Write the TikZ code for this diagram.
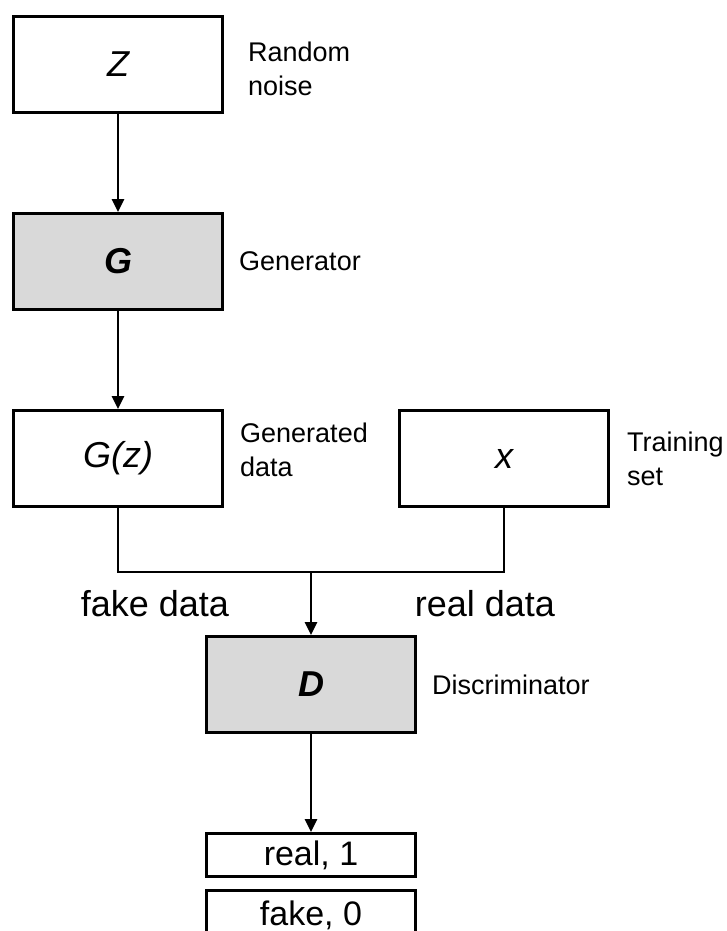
\documentclass[tikz,border=0pt]{standalone}
\usepackage{fontspec}
\setmainfont{Liberation Sans}
\usetikzlibrary{arrows.meta, positioning, calc}
\definecolor{boxgray}{RGB}{217, 217, 217}

\begin{document}
\begin{tikzpicture}[
  x=1pt, y=-1pt,
  node distance=98pt,
  block/.style={rectangle, draw=black, line width=3pt, fill=white,
                minimum width=209pt, minimum height=96pt, inner sep=0pt,
                font=\fontsize{36}{42}\selectfont\itshape},
  net/.style={block, fill=boxgray, font=\fontsize{36}{42}\selectfont\bfseries\itshape},
  outbox/.style={block, minimum height=43pt, font=\fontsize{34}{40}\selectfont},
  note/.style={inner sep=0pt, align=left, font=\fontsize{27}{34}\selectfont},
  flow/.style={inner sep=0pt, font=\fontsize{36}{42}\selectfont},
  wire/.style={line width=2.6pt, black},
  arr/.style={wire, -{Triangle[width=12pt, length=13pt]}}
]
  \useasboundingbox (0,0) rectangle (727,931);

  % generator branch
  \node[block] (noise) at (118,64.5) {Z};
  \node[net, below=of noise] (gen) {G};
  \node[block, below=of gen] (fake) {G(z)};
  \node[block, right=174pt of fake] (real) {x};

  % discriminator and its output
  \coordinate (join) at ($(fake.south)!0.5!(real.south) + (0,64)$);
  \node[net, below=127pt of $(fake.south)!0.5!(real.south)$, anchor=north] (disc) {D};
  \node[outbox, below=of disc] (out1) {real, 1};
  \node[outbox, below=11pt of out1, minimum height=50pt] (out0) {fake, 0};

  % side notes
  \node[note, right=24pt of noise, yshift=-4pt] (noisenote) {Random\\noise};
  \node[note, right=15pt of gen] (gennote) {Generator};
  \node[note, right=16pt of fake, yshift=9pt] (fakenote) {Generated\\data};
  \node[note, right=17pt of real] (realnote) {Training\\set};
  \node[note, right=15pt of disc] (discnote) {Discriminator};

  % data labels
  \node[flow] (fakelabel) at ($(join)+(-156,32)$) {fake data};
  \node[flow] (reallabel) at ($(join)+(174,32)$) {real data};

  \draw[arr] (noise) -- (gen);
  \draw[arr] (gen) -- (fake);
  \draw[wire] (fake.south) |- (join) -| (real.south);
  \draw[arr] (join) -- (disc.north);
  \draw[arr] (disc) -- (out1);
\end{tikzpicture}
\end{document}
